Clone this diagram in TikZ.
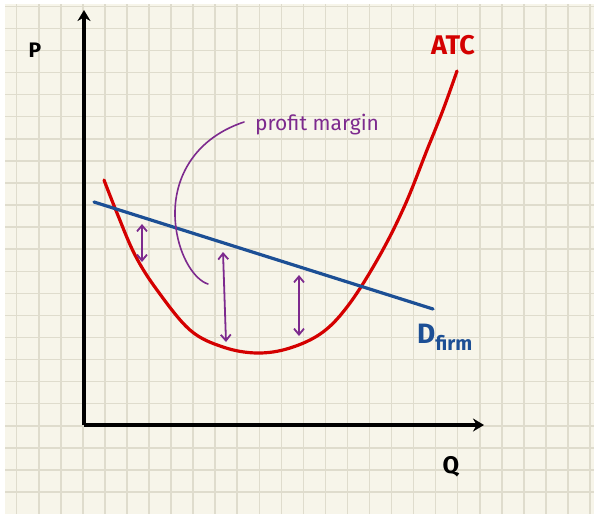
\documentclass[tikz,border=0pt]{standalone}
\usepackage{fontspec}
\setmainfont{Fira Sans}
\usetikzlibrary{arrows.meta}
\definecolor{paper}{HTML}{F7F5EA}
\definecolor{gridc}{HTML}{DFDCCD}
\definecolor{atcred}{HTML}{D40000}
\definecolor{dblue}{HTML}{1C4F95}
\definecolor{mpurple}{HTML}{7D2A8E}
\tikzset{
  axisline/.style={line width=3.6pt, black, -{Stealth[length=11pt,width=13pt]}},
  atcline/.style={line width=3.2pt, atcred, line cap=round},
  demline/.style={line width=3.2pt, dblue, line cap=round},
  marginarrow/.style={line width=1.8pt, mpurple, {Straight Barb[length=6pt,width=10pt]}-{Straight Barb[length=6pt,width=10pt]}},
  pointer/.style={line width=1.6pt, mpurple, line cap=round},
  lbl/.style={inner sep=0pt, anchor=center}
}
\begin{document}
\begin{tikzpicture}[x=1pt,y=-1pt]
\useasboundingbox (0,0) rectangle (594,515);
\fill[white] (0,0) rectangle (594,515);
\fill[paper] (5,4) rectangle (594,514);
\foreach \i in {0,...,26} {
  \draw[gridc, line width=1.5pt] ({16.7+22.05*\i},4) -- ({16.7+22.05*\i},514);
}
\foreach \j in {0,...,22} {
  \draw[gridc, line width=1.5pt] (5,{6.3+22.08*\j}) -- (594,{6.3+22.08*\j});
}
% axes
\coordinate (origin) at (84,425);
\coordinate (ytop) at (84,10);
\coordinate (xend) at (484,425);
\draw[axisline] (origin) -- (ytop);
\draw[axisline] (origin) -- (xend);
\node[lbl, font=\fontsize{21}{21}\selectfont\bfseries] (plabel) at (35,50) {P};
\node[lbl, font=\fontsize{24}{24}\selectfont\bfseries] (qlabel) at (451,467) {Q};
% ATC curve
\draw[atcline] plot[smooth, tension=0.6] coordinates {(104,180) (117,213) (135,255) (157,290) (190,330) (223,347) (257,353) (290,348) (323,332) (350,303) (380,255) (405,205) (427,150) (443,110) (457,71)};
\node[lbl, atcred, font=\fontsize{27}{27}\selectfont\bfseries] (atclabel) at (453,45) {ATC};
% demand
\coordinate (d1) at (94,202);
\coordinate (d2) at (433,309);
\draw[demline] (d1) -- (d2);
\node[lbl, dblue, anchor=west, font=\fontsize{28}{28}\selectfont\bfseries] (dlabel) at (417,337) {D\raisebox{-0.45ex}{\fontsize{20}{20}\selectfont firm}};
% profit margin arrows
\coordinate (a1t) at (142,224);
\coordinate (a1b) at (142,262);
\coordinate (a2t) at (223,252);
\coordinate (a2b) at (226,342);
\coordinate (a3t) at (299,275);
\coordinate (a3b) at (299,336);
\draw[marginarrow] (a1t) -- (a1b);
\draw[marginarrow] (a2t) -- (a2b);
\draw[marginarrow] (a3t) -- (a3b);
% pointer
\node[lbl, mpurple, anchor=west, font=\fontsize{21}{21}\selectfont] (pm) at (255,125) {profit margin};
\coordinate (pstart) at (244,122);
\coordinate (pend) at (208,284);
\draw[pointer] (pstart) .. controls (190,140) and (170,185) .. (176,228) .. controls (180,258) and (195,280) .. (pend);
\end{tikzpicture}
\end{document}
